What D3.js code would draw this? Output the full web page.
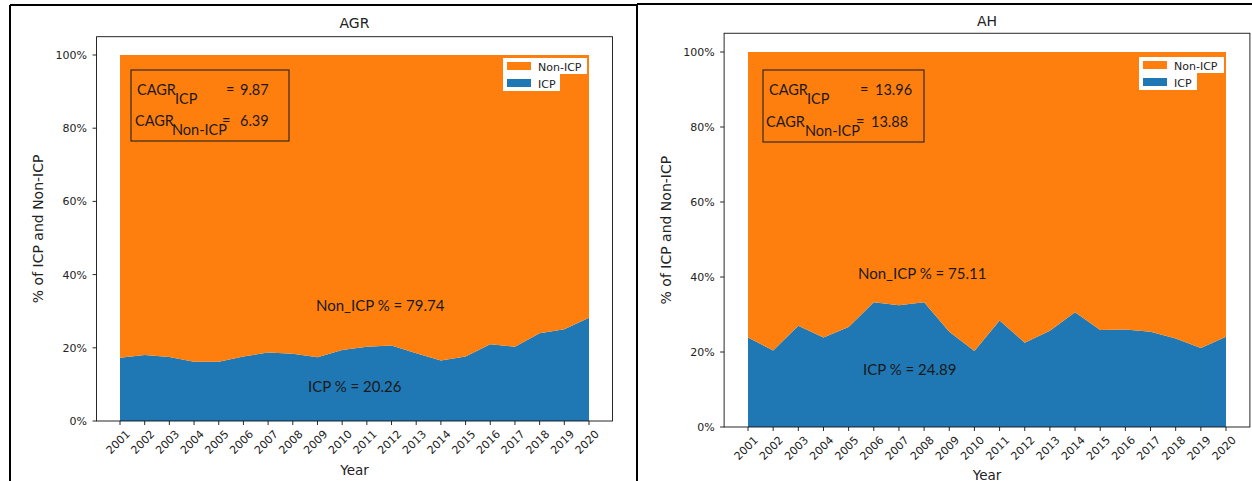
<!DOCTYPE html>
<html>
<head>
<meta charset="utf-8">
<script src="https://cdn.jsdelivr.net/npm/d3@7"></script>
<style>
  html, body { margin: 0; padding: 0; background: #fff; }
  svg { display: block; }
</style>
</head>
<body>
<svg id="chart" width="1252" height="481"></svg>
<script>
// ---------- data ----------
const years = [2001, 2002, 2003, 2004, 2005, 2006, 2007, 2008, 2009, 2010,
               2011, 2012, 2013, 2014, 2015, 2016, 2017, 2018, 2019, 2020];
const agrIcp    = [17.3, 18.0, 17.5, 16.2, 16.2, 17.6, 18.7, 18.4, 17.4, 19.4,
                   20.3, 20.6, 18.5, 16.5, 17.6, 21.0, 20.3, 24.0, 25.1, 28.2];
const agrNonIcp = [82.7, 82.0, 82.5, 83.8, 83.8, 82.4, 81.3, 81.6, 82.6, 80.6,
                   79.7, 79.4, 81.5, 83.5, 82.4, 79.0, 79.7, 76.0, 74.9, 71.8];
const ahIcp     = [23.9, 20.4, 27.0, 23.9, 26.7, 33.3, 32.5, 33.3, 25.4, 20.3,
                   28.4, 22.5, 25.7, 30.6, 25.9, 26.0, 25.4, 23.6, 21.1, 24.1];
const ahNonIcp  = [76.1, 79.6, 73.0, 76.1, 73.3, 66.7, 67.5, 66.7, 74.6, 79.7,
                   71.6, 77.5, 74.3, 69.4, 74.1, 74.0, 74.6, 76.4, 78.9, 75.9];
const yTicks = [0, 20, 40, 60, 80, 100];
const legendLabels = ["Non-ICP", "ICP"];
const panelTitles = ["AGR", "AH"];
const cagrIcpText = ["9.87", "13.96"];
const cagrNonIcpText = ["6.39", "13.88"];
const meanNonIcpText = ["79.74", "75.11"];
const meanIcpText = ["20.26", "24.89"];
const yLabel = "% of ICP and Non-ICP";
const xLabel = "Year";

// ---------- styling / layout ----------
const BLUE = "#1f77b4", ORANGE = "#ff7f0e";
const MPL = "DejaVu Sans, sans-serif";
const CAL = "Lato, 'Open Sans', sans-serif";
const svg = d3.select("#chart");

// document borders
const border = svg.append("g").attr("stroke", "#000").attr("stroke-width", 2);
border.append("line").attr("x1", 10).attr("y1", 5).attr("x2", 10).attr("y2", 481);
border.append("line").attr("x1", 10).attr("y1", 5).attr("x2", 637).attr("y2", 5);
border.append("line").attr("x1", 637).attr("y1", 4).attr("x2", 637).attr("y2", 481);
border.append("line").attr("x1", 637).attr("y1", 4).attr("x2", 1252).attr("y2", 4);

const panels = [
  { icp: agrIcp, non: agrNonIcp, x0: 120, x1: 589, yBot: 421, yTop100: 55,
    titleY: 28, ylabX: 43, xlabY: 475,
    legend: { x: 503, y: 58, w1: 84, w2: 57 },
    box: { x: 131, y: 70, w: 158, h: 71,
           l1: { cagr: 137, sub: 175, eq: 226, val: 240, y: 95, subY: 104 },
           l2: { cagr: 135, sub: 172, eq: 222, val: 240, y: 126, subY: 135 } },
    nonTxt: { x: 316, y: 311 }, icpTxt: { x: 308, y: 392 } },
  { icp: ahIcp, non: ahNonIcp, x0: 748, x1: 1226, yBot: 427, yTop100: 52,
    titleY: 26, ylabX: 671, xlabY: 480,
    legend: { x: 1139, y: 57, w1: 85, w2: 58 },
    box: { x: 763, y: 70, w: 161, h: 72,
           l1: { cagr: 769, sub: 807, eq: 860, val: 875, y: 95, subY: 104 },
           l2: { cagr: 766, sub: 805, eq: 856, val: 871, y: 127, subY: 136 } },
    nonTxt: { x: 858, y: 279 }, icpTxt: { x: 863, y: 375 } }
];

panels.forEach((p, i) => {
  const g = svg.append("g");
  const span = p.x1 - p.x0;
  const margin = span * 0.05;
  const fx0 = p.x0 - margin, fx1 = p.x1 + margin;

  const x = d3.scaleLinear().domain([years[0], years[years.length - 1]]).range([p.x0, p.x1]);
  const y = d3.scaleLinear().domain([0, 100]).range([p.yBot, p.yTop100]);
  const fyTop = y(105);

  const table = years.map((yr, k) => ({ year: yr, ICP: p.icp[k], NonICP: p.non[k] }));
  const stacked = d3.stack().keys(["ICP", "NonICP"])(table);
  const area = d3.area().x(d => x(d.data.year)).y0(d => y(d[0])).y1(d => y(d[1]));
  const colors = [BLUE, ORANGE];

  g.selectAll("path.layer").data(stacked).join("path")
    .attr("class", "layer")
    .attr("d", area)
    .attr("fill", (d, k) => colors[k]);

  // frame
  g.append("rect").attr("x", fx0).attr("y", fyTop).attr("width", fx1 - fx0).attr("height", p.yBot - fyTop)
    .attr("fill", "none").attr("stroke", "#111").attr("stroke-width", 0.9);

  // y axis ticks
  yTicks.forEach(t => {
    g.append("line").attr("x1", fx0 - 4).attr("x2", fx0).attr("y1", y(t)).attr("y2", y(t))
      .attr("stroke", "#111").attr("stroke-width", 0.9);
    g.append("text").attr("x", fx0 - 9.5).attr("y", y(t)).attr("dy", "0.36em")
      .attr("text-anchor", "end").attr("font-family", MPL).attr("font-size", 11)
      .attr("fill", "#222").text(d3.format(".0%")(t / 100));
  });

  // x axis ticks
  years.forEach(yr => {
    g.append("line").attr("x1", x(yr)).attr("x2", x(yr)).attr("y1", p.yBot).attr("y2", p.yBot + 4)
      .attr("stroke", "#111").attr("stroke-width", 0.9);
    g.append("text")
      .attr("transform", `translate(${x(yr) - 2},${p.yBot + 21}) rotate(-45)`)
      .attr("text-anchor", "middle").attr("dy", "0.35em")
      .attr("font-family", MPL).attr("font-size", 11).attr("fill", "#222")
      .text(yr);
  });

  // title
  g.append("text").attr("x", (fx0 + fx1) / 2).attr("y", p.titleY).attr("text-anchor", "middle")
    .attr("font-family", MPL).attr("font-size", 14).attr("fill", "#222").text(panelTitles[i]);

  // axis labels
  g.append("text").attr("transform", `translate(${p.ylabX},${(fyTop + p.yBot) / 2}) rotate(-90)`)
    .attr("text-anchor", "middle").attr("font-family", MPL).attr("font-size", 14)
    .attr("fill", "#222").text(yLabel);
  g.append("text").attr("x", (fx0 + fx1) / 2).attr("y", p.xlabY).attr("text-anchor", "middle")
    .attr("font-family", MPL).attr("font-size", 13.5).attr("fill", "#222").text(xLabel);

  // legend
  const L = p.legend;
  g.append("rect").attr("x", L.x).attr("y", L.y).attr("width", L.w1).attr("height", 16).attr("fill", "#fff");
  g.append("rect").attr("x", L.x).attr("y", L.y + 16).attr("width", L.w2).attr("height", 17).attr("fill", "#fff");
  [ORANGE, BLUE].forEach((c, k) => {
    g.append("rect").attr("x", L.x + 4).attr("y", L.y + 4 + k * 17).attr("width", 24).attr("height", 8).attr("fill", c);
    g.append("text").attr("x", L.x + 35).attr("y", L.y + 12.5 + k * 17)
      .attr("font-family", MPL).attr("font-size", 11).attr("fill", "#222").text(legendLabels[k]);
  });

  // CAGR box
  const B = p.box;
  g.append("rect").attr("x", B.x).attr("y", B.y).attr("width", B.w).attr("height", B.h)
    .attr("fill", "none").attr("stroke", "#222").attr("stroke-width", 1.1);
  const ctext = (xx, yy, s) => g.append("text").attr("x", xx).attr("y", yy)
    .attr("font-family", CAL).attr("font-size", 14.5).attr("fill", "#1a1a1a").text(s);
  ctext(B.l1.cagr, B.l1.y, "CAGR");
  ctext(B.l1.sub, B.l1.subY, "ICP");
  ctext(B.l1.eq, B.l1.y, "=");
  ctext(B.l1.val, B.l1.y, cagrIcpText[i]);
  ctext(B.l2.cagr, B.l2.y, "CAGR");
  ctext(B.l2.sub, B.l2.subY, "Non-ICP");
  ctext(B.l2.eq, B.l2.y, "=");
  ctext(B.l2.val, B.l2.y, cagrNonIcpText[i]);

  // mean annotations
  g.append("text").attr("x", p.nonTxt.x).attr("y", p.nonTxt.y)
    .attr("font-family", CAL).attr("font-size", 15).attr("fill", "#1a1a1a")
    .text(`Non_ICP % = ${meanNonIcpText[i]}`);
  g.append("text").attr("x", p.icpTxt.x).attr("y", p.icpTxt.y)
    .attr("font-family", CAL).attr("font-size", 15).attr("fill", "#1a1a1a")
    .text(`ICP % = ${meanIcpText[i]}`);
});
</script>
</body>
</html>
